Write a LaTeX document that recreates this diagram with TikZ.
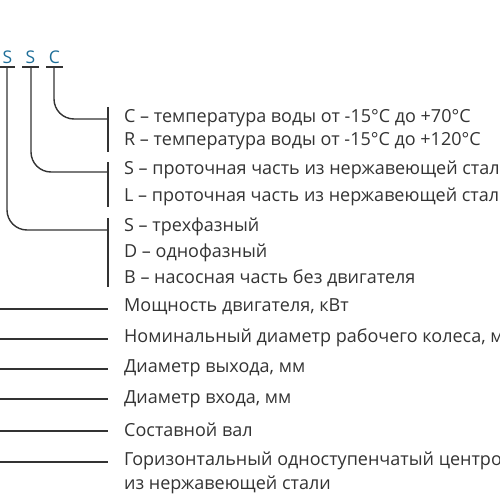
\documentclass[tikz,border=0pt]{standalone}
\usepackage{fontspec}
\setmainfont{Open Sans}
\definecolor{txt}{HTML}{333333}
\definecolor{code}{HTML}{1E6E98}
\begin{document}
\begin{tikzpicture}[x=1pt,y=-1pt,
  ln/.style={draw=txt,line width=1.4pt},
  lbl/.style={anchor=west,inner sep=0pt,text=txt,font=\fontsize{18}{21}\selectfont},
  cd/.style={inner sep=0pt,text=code,font=\fontsize{17.5}{20}\selectfont}]
\useasboundingbox (0,0) rectangle (500,500);
\clip (0,0) rectangle (500,500);
% code letters
\node[cd] (l1) at (7.5,57) {S};
\node[cd] (l2) at (30.5,57) {S};
\node[cd] (l3) at (54.5,57) {C};
\coordinate (u1) at (7,67);
\coordinate (u2) at (31,67);
\coordinate (u3) at (54,67);
\draw[ln] (-1,67) -- (15,67);
\draw[ln] (22,67) -- (39,67);
\draw[ln] (46,67) -- (63,67);
% brackets
\coordinate (b1) at (108,119);
\coordinate (b2) at (108,172);
\coordinate (b3) at (108,230);
\draw[ln] (108,107) -- (108,152);
\draw[ln] (108,162) -- (108,207);
\draw[ln] (108,218) -- (108,287);
\draw[ln,rounded corners=20pt] (u3) |- (b1);
\draw[ln,rounded corners=20pt] (u2) |- (b2);
\draw[ln,rounded corners=20pt] (u1) |- (b3);
% labels
\node[lbl] (t1) at (124,118) {C – температура воды от -15°C до +70°C};
\node[lbl] (t2) at (124,141) {R – температура воды от -15°C до +120°C};
\node[lbl] (t3) at (124,170) {S – проточная часть из нержавеющей стали};
\node[lbl] (t4) at (124,197) {L – проточная часть из нержавеющей стали};
\node[lbl] (t5) at (124,227) {S – трехфазный};
\node[lbl] (t6) at (124,253) {D – однофазный};
\node[lbl] (t7) at (124,278) {B – насосная часть без двигателя};
\node[lbl] (t8) at (124,307) {Мощность двигателя, кВт};
\node[lbl] (t9) at (124,338) {Номинальный диаметр рабочего колеса, мм};
\node[lbl] (t10) at (124,368) {Диаметр выхода, мм};
\node[lbl] (t11) at (124,399) {Диаметр входа, мм};
\node[lbl] (t12) at (124,430) {Составной вал};
\node[lbl] (t13) at (124,461) {Горизонтальный одноступенчатый центробежный насос};
\node[lbl] (t14) at (124,485) {из нержавеющей стали};
% plain lines
\coordinate (s8) at (-1,309);
\coordinate (s9) at (-1,339);
\coordinate (s10) at (-1,369);
\coordinate (s11) at (-1,399);
\coordinate (s12) at (-1,431);
\coordinate (s13) at (-1,462);
\draw[ln] (s8) -- (108,309);
\draw[ln] (s9) -- (108,339);
\draw[ln] (s10) -- (108,369);
\draw[ln] (s11) -- (108,399);
\draw[ln] (s12) -- (108,431);
\draw[ln] (s13) -- (108,462);
\end{tikzpicture}
\end{document}
